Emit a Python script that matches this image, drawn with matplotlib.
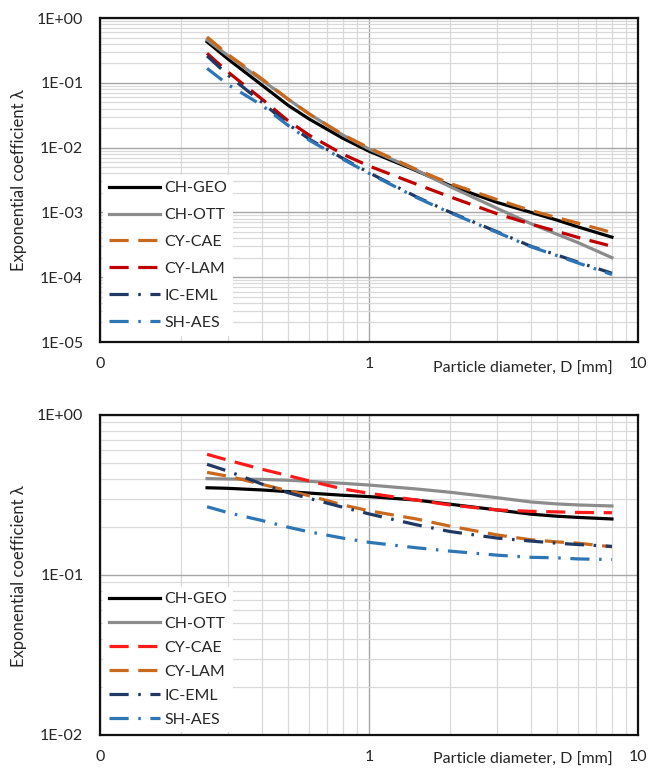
#!/usr/bin/python3
# encoding: utf-8

import matplotlib
matplotlib.use('Agg')
import matplotlib.pyplot as plt
from matplotlib.ticker import LogLocator, NullFormatter

diameter = [0.25, 0.3, 0.4, 0.5, 0.6, 0.8, 1.0, 1.5, 2.0, 3.0, 4.0, 5.0, 6.0, 8.0]

# Upper panel.
top_ch_geo = [0.43, 0.23, 0.092, 0.045, 0.0275, 0.0139, 0.0088, 0.0044,
              0.0026, 0.00142, 1.0e-3, 7.6e-4, 5.95e-4, 4.15e-4]
top_ch_ott = [0.46, 0.26, 0.11, 0.056, 0.033, 0.0156, 0.0095, 0.0045,
              0.0025, 0.00115, 6.7e-4, 4.6e-4, 3.4e-4, 2.0e-4]
top_cy_cae = [0.51, 0.27, 0.115, 0.056, 0.033, 0.0158, 0.0099, 0.0046,
              0.0028, 0.00157, 0.00107, 8.3e-4, 6.8e-4, 4.9e-4]
top_cy_lam = [0.285, 0.145, 0.056, 0.026, 0.0155, 0.0079, 0.0052, 0.00273,
              0.00174, 9.5e-4, 6.6e-4, 5.1e-4, 4.1e-4, 3.0e-4]
top_ic_eml = [0.26, 0.13, 0.05, 0.023, 0.0135, 0.0068, 0.0041, 0.00174,
              0.00101, 5.0e-4, 3.0e-4, 2.2e-4, 1.7e-4, 1.15e-4]
top_sh_aes = [0.167, 0.093, 0.045, 0.022, 0.013, 0.0066, 0.0040, 0.0017,
              9.9e-4, 4.9e-4, 2.95e-4, 2.15e-4, 1.65e-4, 1.1e-4]

# Lower panel.
bot_ch_geo = [0.351, 0.348, 0.34, 0.332, 0.325, 0.315, 0.309, 0.294,
              0.277, 0.255, 0.24, 0.233, 0.229, 0.224]
bot_ch_ott = [0.40, 0.398, 0.396, 0.391, 0.385, 0.374, 0.365, 0.345,
              0.329, 0.304, 0.286, 0.278, 0.274, 0.27]
bot_cy_cae = [0.568, 0.521, 0.458, 0.418, 0.387, 0.345, 0.324, 0.294,
              0.274, 0.255, 0.25, 0.248, 0.246, 0.245]
bot_cy_lam = [0.438, 0.414, 0.369, 0.336, 0.313, 0.274, 0.252, 0.224,
              0.202, 0.178, 0.166, 0.161, 0.158, 0.150]
bot_ic_eml = [0.492, 0.445, 0.37, 0.327, 0.301, 0.265, 0.241, 0.206,
              0.187, 0.17, 0.163, 0.158, 0.155, 0.151]
bot_sh_aes = [0.267, 0.245, 0.219, 0.199, 0.186, 0.17, 0.16, 0.148,
              0.141, 0.133, 0.129, 0.128, 0.126, 0.125]

names = ['CH-GEO', 'CH-OTT', 'CY-CAE', 'CY-LAM', 'IC-EML', 'SH-AES']

x_ticks = [0.1, 1, 10]
x_tick_labels = ['0', '1', '10']
top_y_ticks = [1e-5, 1e-4, 1e-3, 1e-2, 1e-1, 1e0]
top_y_tick_labels = ['1E-05', '1E-04', '1E-03', '1E-02', '1E-01', '1E+00']
bot_y_ticks = [1e-2, 1e-1, 1e0]
bot_y_tick_labels = ['1E-02', '1E-01', '1E+00']

y_label = 'Exponential coefficient λ'
x_label = 'Particle diameter, D [mm]'

# Line styles.
SOLID = '-'
DASH = (0, (6, 3))
DASHDOT = (0, (6, 3, 0.8, 3))

BLACK = '#000000'
GREY = '#8c8c8c'
ORANGE = '#c8691e'
DARKRED = '#c00000'
RED = '#ff1a1a'
NAVY = '#1f3864'
BLUE = '#2e75b6'

TEXT = '#262626'


def draw_panel(ax, series, styles, yticks, ylabels, spacing, leg_y, lab_y):
    """
    One log-log panel: six curves, Excel-like grid, legend and labels.
    """
    for name, values, (color, ls) in zip(names, series, styles):
        ax.plot(diameter, values, color=color, ls=ls, lw=2.3,
                label=name, dash_capstyle='butt')
    ax.set_xscale('log')
    ax.set_yscale('log')
    ax.set_xlim(x_ticks[0], x_ticks[-1])
    ax.set_ylim(yticks[0], yticks[-1])
    ax.set_xticks(x_ticks, x_tick_labels)
    ax.set_yticks(yticks, ylabels)
    # Minor gridlines at 2..9 of every decade.
    for axis in (ax.xaxis, ax.yaxis):
        axis.set_minor_locator(LogLocator(base=10, subs=range(2, 10),
                                          numticks=20))
        axis.set_minor_formatter(NullFormatter())
    ax.grid(which='major', color='#a6a6a6', lw=1.0)
    ax.grid(which='minor', color='#d9d9d9', lw=0.9)
    ax.set_axisbelow(True)
    ax.tick_params(which='both', length=0, labelsize=11.5, colors=TEXT)
    ax.tick_params(axis='x', pad=11)
    ax.tick_params(axis='y', pad=12)
    for sp in ax.spines.values():
        sp.set_color('#111111')
        sp.set_linewidth(1.6)
    # Axis title sits beside the tick labels, to the right.
    ax.text(0.953, lab_y, x_label, transform=ax.transAxes, ha='right',
            va='center', fontsize=11.5, color=TEXT)
    leg = ax.legend(loc='lower left', bbox_to_anchor=(0.006, leg_y),
                    borderaxespad=0, borderpad=0.35, handlelength=3.2,
                    handletextpad=0.3, labelspacing=spacing, fontsize=11.5,
                    frameon=True, fancybox=False, framealpha=1,
                    facecolor='white', edgecolor='none')
    for t in leg.get_texts():
        t.set_color(TEXT)


def main():
    plt.rcParams['font.family'] = ['Lato', 'DejaVu Sans']
    fig = plt.figure(figsize=(6.49, 7.70), dpi=100)
    W, H = 649., 770.
    ax_top = fig.add_axes([100 / W, 1 - 342 / H, 538 / W, 324 / H])
    ax_bot = fig.add_axes([100 / W, 1 - 735 / H, 538 / W, 320 / H])

    top_styles = [(BLACK, SOLID), (GREY, SOLID), (ORANGE, DASH),
                  (DARKRED, DASH), (NAVY, DASHDOT), (BLUE, DASHDOT)]
    bot_styles = [(BLACK, SOLID), (GREY, SOLID), (RED, DASH),
                  (ORANGE, DASH), (NAVY, DASHDOT), (BLUE, DASHDOT)]

    draw_panel(ax_top, [top_ch_geo, top_ch_ott, top_cy_cae, top_cy_lam,
                        top_ic_eml, top_sh_aes],
               top_styles, top_y_ticks, top_y_tick_labels, 0.8, 0.02, -0.083)
    draw_panel(ax_bot, [bot_ch_geo, bot_ch_ott, bot_cy_cae, bot_cy_lam,
                        bot_ic_eml, bot_sh_aes],
               bot_styles, bot_y_ticks, bot_y_tick_labels, 0.62, 0.008,
               -0.078)

    # Y titles, rotated, centred on each panel.
    fig.text(19 / W, 1 - 180 / H, y_label, rotation=90, ha='center',
             va='center', fontsize=12, color=TEXT)
    fig.text(19 / W, 1 - 576 / H, y_label, rotation=90, ha='center',
             va='center', fontsize=12, color=TEXT)

    fig.savefig('out.png', dpi=100)


if __name__ == '__main__':
    main()
